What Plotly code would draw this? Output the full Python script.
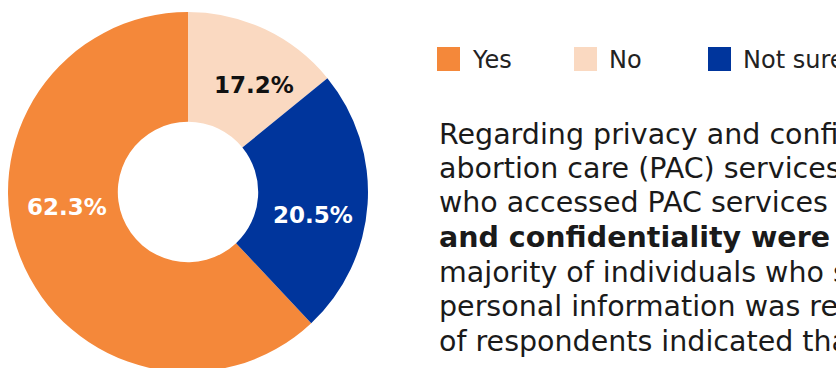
import plotly.graph_objects as go

# ---- data ----
categories = ["Yes", "No", "Not sure"]
label_values = [62.3, 17.2, 20.5]          # printed percentages
slice_sizes = [62.0, 14.1, 23.9]           # slice angles as drawn in the chart
colors = ["#F4883A", "#FAD9C1", "#00359C"]
label_colors = ["#FFFFFF", "#111111", "#FFFFFF"]
paragraph_lines = [
    "Regarding privacy and confidentiality in post-",
    "abortion care (PAC) services, most respondents",
    "who accessed PAC services reported that privacy",
    "<b>and confidentiality were maintained.</b> The",
    "majority of individuals who sought PAC felt their",
    "personal information was respected, while a share",
    "of respondents indicated that they were not sure.",
]

W, H = 836, 372
FONT = "Century Gothic, DejaVu Sans, sans-serif"

total = sum(slice_sizes)
# "Yes" slice ends at 12 o'clock; it starts after No + Not sure going clockwise
rotation = 360.0 * (total - slice_sizes[0]) / total

fig = go.Figure(
    go.Pie(
        labels=categories,
        values=slice_sizes,
        sort=False,
        direction="clockwise",
        rotation=rotation,
        hole=0.39,
        marker=dict(colors=colors, line=dict(width=0)),
        textinfo="none",
        showlegend=False,
        domain=dict(x=[8 / W, 368 / W], y=[1 - 372 / H, 1 - 12 / H]),
        hoverinfo="label",
    )
)

# ---- slice labels (placed as in the reference) ----
label_px = [(67, 207.5), (254, 85), (312.5, 215)]
for val, col, (px, py) in zip(label_values, label_colors, label_px):
    fig.add_annotation(
        x=px / W, y=1 - py / H, xref="paper", yref="paper",
        xanchor="center", yanchor="middle", showarrow=False,
        text=f"<b>{val:.1f}%</b>",
        font=dict(family=FONT, size=23, color=col),
    )

# ---- custom legend (large square swatches) ----
legend_x = [437, 574, 708]
for cat, col, lx in zip(categories, colors, legend_x):
    fig.add_shape(
        type="rect", xref="paper", yref="paper",
        x0=lx / W, x1=(lx + 23) / W, y0=1 - 71 / H, y1=1 - 47 / H,
        fillcolor=col, line=dict(width=0),
    )
    fig.add_annotation(
        x=(lx + 33) / W, y=1 - 60 / H, xref="paper", yref="paper",
        xanchor="left", yanchor="middle", showarrow=False,
        text=cat, font=dict(family=FONT, size=24, color="#222222"),
    )

# ---- paragraph text ----
for i, line in enumerate(paragraph_lines):
    fig.add_annotation(
        x=437 / W, y=1 - (134 + i * 34.5) / H, xref="paper", yref="paper",
        xanchor="left", yanchor="middle", showarrow=False, align="left",
        text=line, font=dict(family=FONT, size=28.5, color="#1A1A1A"),
    )

fig.update_layout(
    width=W, height=H,
    margin=dict(l=0, r=0, t=0, b=0),
    paper_bgcolor="white", plot_bgcolor="white",
)

fig.write_html(
    "out.html",
    post_script="document.body.style.margin='0';document.body.style.overflow='hidden';document.documentElement.style.overflow='hidden';",
)
